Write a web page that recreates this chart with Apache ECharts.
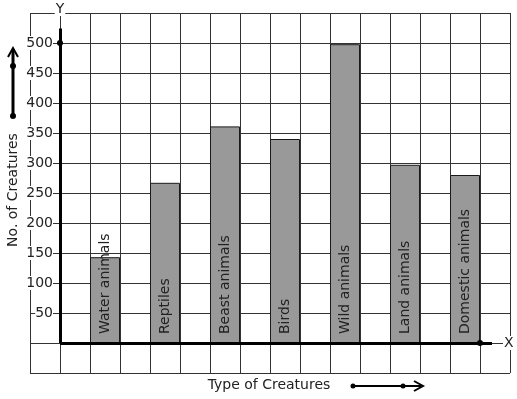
<!DOCTYPE html>
<html>
	<head>
		<meta charset="utf-8">
		<title></title>
		<style type="text/css">
			* {
				margin: 0;
				padding: 0;
			}

			html,
			body {
				width: 100%;
				height: 100%;
				background: #fff;
			}

			#box {
				width: 517px;
				height: 399px;
			}
		</style>
	</head>
	<body>
		<div id="box"></div>
		<script src="https://cdn.jsdelivr.net/npm/echarts@6/dist/echarts.min.js"></script>
		<script>
			var creatures = ['Water animals', 'Reptiles', 'Beast animals', 'Birds', 'Wild animals', 'Land animals', 'Domestic animals']
			var counts = [143, 267, 361, 340, 498, 297, 280]
			// column centres on the squared grid (one square = 1)
			var slots = [1.5, 3.5, 5.5, 7.5, 9.5, 11.5, 13.5]
			var yTicks = [50, 100, 150, 200, 250, 300, 350, 400, 450, 500]

			var chevron = 'path://M50,0 L100,100 L84,100 L50,28 L16,100 L0,100 Z'
			var font = 'DejaVu Sans'

			var bars = []
			for (let i = 0; i < creatures.length; i++) {
				bars.push({
					name: creatures[i],
					value: [slots[i], counts[i]]
				})
			}

			var myChart = echarts.init(document.getElementById('box'));
			var option = {
				animation: false,
				textStyle: {
					fontFamily: font
				},
				grid: {
					left: 30,
					right: 7,
					top: 13,
					bottom: 26,
					containLabel: false,
					outerBoundsMode: 'none'
				},
				xAxis: {
					type: 'value',
					min: -1,
					max: 15,
					interval: 1,
					name: 'X',
					nameLocation: 'end',
					nameGap: -7,
					nameTextStyle: {
						color: '#222',
						fontSize: 14,
						fontFamily: font,
						backgroundColor: '#fff',
						padding: [0, 1]
					},
					axisLine: {
						show: false,
						onZero: true
					},
					axisTick: {
						show: false
					},
					axisLabel: {
						show: false
					},
					splitLine: {
						show: true,
						lineStyle: {
							color: '#333',
							width: 1
						}
					}
				},
				yAxis: {
					type: 'value',
					min: -50,
					max: 550,
					interval: 50,
					name: 'Y',
					nameLocation: 'end',
					nameGap: -3,
					nameTextStyle: {
						color: '#222',
						fontSize: 14,
						fontFamily: font,
						backgroundColor: '#fff',
						padding: [0, 1]
					},
					axisLine: {
						show: false,
						onZero: true
					},
					axisTick: {
						show: false
					},
					axisLabel: {
						color: '#222',
						fontSize: 14,
						fontFamily: font,
						// labels stay at the grid edge, pull them in next to the y axis
						margin: -23,
						backgroundColor: '#fff',
						formatter: function(v) {
							return yTicks.indexOf(v) >= 0 ? String(v) : ''
						}
					},
					splitLine: {
						show: true,
						lineStyle: {
							color: '#333',
							width: 1
						}
					}
				},
				graphic: [{
						type: 'text',
						x: 13,
						y: 190,
						z: 100,
						rotation: Math.PI / 2,
						style: {
							text: 'No. of Creatures',
							font: '14px DejaVu Sans',
							fill: '#222',
							align: 'center',
							verticalAlign: 'middle'
						}
					},
					{
						type: 'text',
						x: 269,
						y: 385,
						z: 100,
						style: {
							text: 'Type of Creatures',
							font: '14px DejaVu Sans',
							fill: '#222',
							align: 'center',
							verticalAlign: 'middle'
						}
					},
					// little direction arrows next to the axis titles
					{
						type: 'polyline',
						z: 100,
						shape: {
							points: [[13, 116], [13, 49]]
						},
						style: {
							stroke: '#000',
							lineWidth: 3
						}
					},
					{
						type: 'polyline',
						z: 100,
						shape: {
							points: [[8, 57], [13, 48], [18, 57]]
						},
						style: {
							stroke: '#000',
							lineWidth: 2,
							fill: null
						}
					},
					{
						type: 'circle',
						z: 100,
						shape: {
							cx: 13,
							cy: 116,
							r: 3
						},
						style: {
							fill: '#000'
						}
					},
					{
						type: 'circle',
						z: 100,
						shape: {
							cx: 13,
							cy: 66,
							r: 3
						},
						style: {
							fill: '#000'
						}
					},
					{
						type: 'polyline',
						z: 100,
						shape: {
							points: [[353, 386], [421, 386]]
						},
						style: {
							stroke: '#000',
							lineWidth: 2
						}
					},
					{
						type: 'polyline',
						z: 100,
						shape: {
							points: [[414, 381], [423, 386], [414, 391]]
						},
						style: {
							stroke: '#000',
							lineWidth: 2,
							fill: null
						}
					},
					{
						type: 'circle',
						z: 100,
						shape: {
							cx: 353,
							cy: 386,
							r: 2.5
						},
						style: {
							fill: '#000'
						}
					},
					{
						type: 'circle',
						z: 100,
						shape: {
							cx: 403,
							cy: 386,
							r: 2.5
						},
						style: {
							fill: '#000'
						}
					}
				],
				series: [{
					type: 'bar',
					data: bars,
					barWidth: 30,
					itemStyle: {
						color: '#999999',
						borderColor: '#1a1a1a',
						borderWidth: 1
					},
					label: {
						show: true,
						position: 'insideBottom',
						rotate: 90,
						align: 'left',
						verticalAlign: 'middle',
						distance: 9,
						color: '#222',
						fontSize: 14,
						fontFamily: font,
						formatter: '{b}'
					},
					markLine: {
						silent: true,
						animation: false,
						symbol: ['circle', chevron],
						symbolSize: [[6, 6], [12, 10]],
						label: {
							show: false
						},
						lineStyle: {
							color: '#000',
							width: 3,
							type: 'solid'
						},
						data: [
							[{
								coord: [0, 0]
							}, {
								coord: [0, 524]
							}],
							[{
								coord: [0, 0]
							}, {
								coord: [14.4, 0]
							}]
						]
					},
					markPoint: {
						silent: true,
						symbol: 'circle',
						symbolSize: 6,
						itemStyle: {
							color: '#000'
						},
						label: {
							show: false
						},
						data: [{
							coord: [0, 500]
						}, {
							coord: [14, 0]
						}]
					}
				}]
			};
			myChart.setOption(option);
		</script>
	</body>
</html>
